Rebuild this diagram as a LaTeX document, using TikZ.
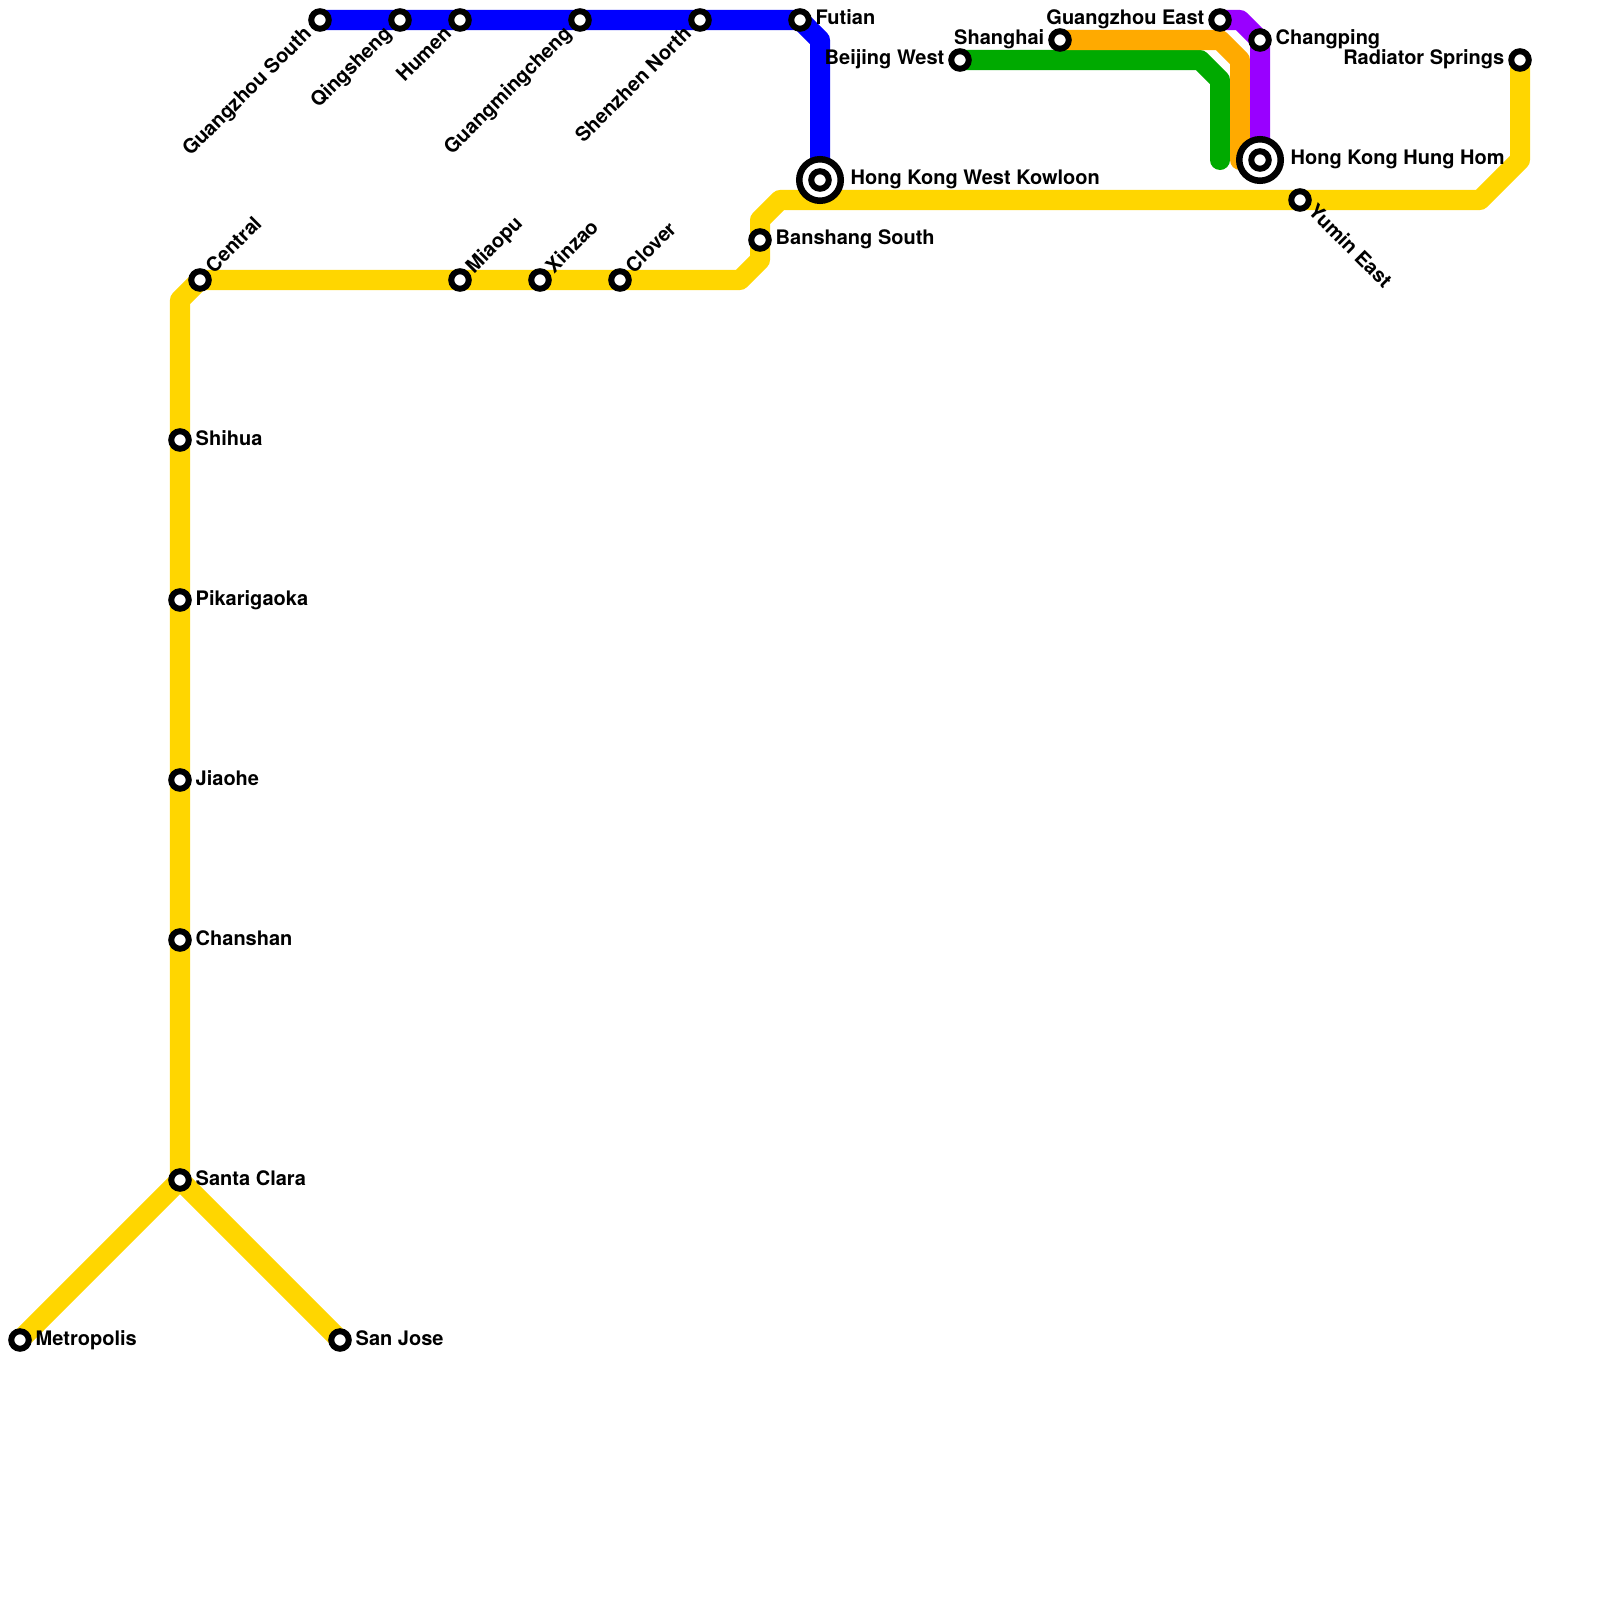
\documentclass[tikz,border=0pt]{standalone}
\usepackage{fontspec}
\setmainfont{TeX Gyre Heros}
\usetikzlibrary{backgrounds}
\definecolor{lineyellow}{RGB}{255,214,0}
\definecolor{lineblue}{RGB}{0,0,255}
\definecolor{linegreen}{RGB}{0,170,0}
\definecolor{lineorange}{RGB}{255,170,0}
\definecolor{linepurple}{RGB}{153,0,255}

\begin{document}
\begin{tikzpicture}[
  x=0.01cm, y=-0.01cm,
  font=\fontsize{5.69pt}{6.5pt}\selectfont\bfseries,
  stn/.style={circle, draw=black, fill=white, line width=0.06cm, minimum size=0.175cm, inner sep=0pt},
  bigstn/.style={circle, draw=black, fill=white, line width=0.065cm, minimum size=0.415cm, inner sep=0pt},
  route/.style={line width=0.2cm, line join=round, line cap=round},
  lab/.style={inner sep=0pt, anchor=base west},
  labl/.style={inner sep=0pt, anchor=base east},
  labne/.style={inner sep=0pt, anchor=base west, rotate=45},
  labsw/.style={inner sep=0pt, anchor=base east, rotate=45},
  labse/.style={inner sep=0pt, anchor=base west, rotate=-45}
]
  \useasboundingbox (0,0) rectangle (1600,1600);

  \foreach \st/\x/\y/\txt in {metro/20/1340/Metropolis,sclara/180/1180/Santa Clara,sjose/340/1340/San Jose,chan/180/940/Chanshan,jiao/180/780/Jiaohe,pika/180/600/Pikarigaoka,shih/180/440/Shihua,bans/760/240/Banshang South,futi/800/20/Futian,chpg/1260/40/Changping} {
    \node[stn] (\st) at (\x,\y) {};
    \node[lab] (\st l) at ([shift={(15,5)}]\st.center) {\txt};
  }
  \foreach \st/\x/\y/\txt in {bwest/960/60/Beijing West,shan/1060/40/Shanghai,geast/1220/20/Guangzhou East,radi/1520/60/Radiator Springs} {
    \node[stn] (\st) at (\x,\y) {};
    \node[labl] (\st l) at ([shift={(-15,5)}]\st.center) {\txt};
  }
  \foreach \st/\x/\y/\txt in {cent/200/280/Central,miao/460/280/Miaopu,xinz/540/280/Xinzao,clov/620/280/Clover} {
    \node[stn] (\st) at (\x,\y) {};
    \node[labne] (\st l) at ([shift={(13.5,-5.5)}]\st.center) {\txt};
  }
  \foreach \st/\x/\y/\txt in {gsouth/320/20/Guangzhou South,qing/400/20/Qingsheng,humen/460/20/Humen,gming/580/20/Guangmingcheng,snorth/700/20/Shenzhen North} {
    \node[stn] (\st) at (\x,\y) {};
    \node[labsw] (\st l) at ([shift={(-7,14.5)}]\st.center) {\txt};
  }
  \node[stn] (yumin) at (1300,200) {};
  \node[labse] (yumin l) at ([shift={(6.5,12.5)}]yumin.center) {Yumin East};

  \node[bigstn] (wkln) at (820,180) {};
  \node[stn] (wkln c) at (820,180) {};
  \node[lab] (wkln l) at ([shift={(30,5)}]wkln.center) {Hong Kong West Kowloon};
  \node[bigstn] (hhom) at (1260,160) {};
  \node[stn] (hhom c) at (1260,160) {};
  \node[lab] (hhom l) at ([shift={(30,5)}]hhom.center) {Hong Kong Hung Hom};

  \coordinate (yb1) at (1520,160);
  \coordinate (yb2) at (1480,200);
  \coordinate (yb3) at (780,200);
  \coordinate (yb4) at (760,220);
  \coordinate (yb5) at (760,260);
  \coordinate (yb6) at (740,280);
  \coordinate (yb7) at (180,300);
  \coordinate (bb1) at (820,40);
  \coordinate (gb1) at (1200,60);
  \coordinate (gb2) at (1220,80);
  \coordinate (gend) at (1220,160);
  \coordinate (ob1) at (1220,40);
  \coordinate (ob2) at (1240,60);
  \coordinate (oend) at (1240,160);
  \coordinate (pb1) at (1240,20);

  \begin{scope}[on background layer]
    \draw[route, draw=lineyellow] (radi.center) -- (yb1) -- (yb2) -- (yb3) -- (yb4) -- (yb5) -- (yb6) -- (cent.center) -- (yb7) -- (sclara.center);
    \draw[route, draw=lineyellow] (metro.center) -- (sclara.center) -- (sjose.center);
    \draw[route, draw=lineblue] (gsouth.center) -- (futi.center) -- (bb1) -- (wkln.center);
    \draw[route, draw=linegreen] (bwest.center) -- (gb1) -- (gb2) -- (gend);
    \draw[route, draw=lineorange] (shan.center) -- (ob1) -- (ob2) -- (oend);
    \draw[route, draw=linepurple] (geast.center) -- (pb1) -- (chpg.center) -- (hhom.center);
  \end{scope}
\end{tikzpicture}
\end{document}
